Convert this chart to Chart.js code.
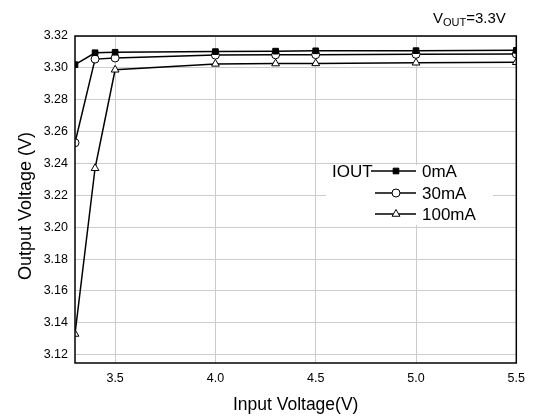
<!DOCTYPE html>
<html>
<head>
<meta charset="utf-8">
<script src="https://cdn.jsdelivr.net/npm/chart.js@4"></script>
<style>
  body { margin: 0; background: #fff; }
  #wrap { width: 533px; height: 416px; }
</style>
</head>
<body>
<div id="wrap"><canvas id="myChart"></canvas></div>
<script>
// input voltage points (V)
const vin = [3.3, 3.4, 3.5, 4.0, 4.3, 4.5, 5.0, 5.5];
// output voltage per load current
const out0mA   = [3.302, 3.3095, 3.3098, 3.3102, 3.3105, 3.3107, 3.3108, 3.311];
const out30mA  = [3.253, 3.3055, 3.3062, 3.308, 3.3082, 3.3083, 3.3085, 3.3087];
const out100mA = [3.133, 3.237, 3.2988, 3.3025, 3.3027, 3.3028, 3.3032, 3.3035];
const seriesNames = ["0mA", "30mA", "100mA"];
const xTicks = [3.5, 4.0, 4.5, 5.0, 5.5];
const yTicks = [3.12, 3.14, 3.16, 3.18, 3.20, 3.22, 3.24, 3.26, 3.28, 3.30, 3.32];

const font = "'Liberation Sans', Arial, sans-serif";

function pts(ys) {
  return vin.map((x, i) => ({ x: x, y: ys[i] }));
}

const styles = [
  { pointStyle: "rect", bg: "#000", radius: 4 },
  { pointStyle: "circle", bg: "#fff", radius: 4 },
  { pointStyle: "triangle", bg: "#fff", radius: 4.5 }
];

const datasets = [out0mA, out30mA, out100mA].map((ys, i) => ({
  label: seriesNames[i],
  data: pts(ys),
  borderColor: "#000",
  borderWidth: 1.5,
  pointStyle: styles[i].pointStyle,
  pointBackgroundColor: styles[i].bg,
  pointBorderColor: "#000",
  pointBorderWidth: 1,
  pointRadius: styles[i].radius,
  tension: 0
}));

// frame, legend box, y title and Vout note
const extras = {
  id: "extras",
  afterDraw(chart) {
    const c = chart.ctx;
    const a = chart.chartArea;
    c.save();
    // legend
    c.fillStyle = "#fff";
    c.fillRect(326, 165, 167, 60);
    c.fillStyle = "#000";
    c.font = "17px " + font;
    c.textBaseline = "middle";
    c.textAlign = "left";
    c.fillText("IOUT", 332, 172);
    const rows = [171, 193, 214];
    rows.forEach((y, i) => {
      c.strokeStyle = "#000";
      c.lineWidth = 1.5;
      c.beginPath();
      c.moveTo(i === 0 ? 371 : 375, y);
      c.lineTo(416, y);
      c.stroke();
      c.lineWidth = 1;
      c.fillStyle = styles[i].bg;
      Chart.helpers.drawPoint(c, {
        pointStyle: styles[i].pointStyle,
        radius: styles[i].radius,
        borderWidth: 1
      }, 396, y);
      c.fillStyle = "#000";
      c.fillText(seriesNames[i], 422, y + 1);
    });
    // frame
    c.strokeStyle = "#000";
    c.lineWidth = 1.5;
    c.strokeRect(a.left, a.top, a.right - a.left, a.bottom - a.top);
    // y title
    c.save();
    c.translate(26, 206);
    c.rotate(-Math.PI / 2);
    c.font = "18px " + font;
    c.textAlign = "center";
    c.textBaseline = "middle";
    c.fillText("Output Voltage (V)", 0, 0);
    c.restore();
    // Vout note
    c.font = "15px " + font;
    c.textBaseline = "alphabetic";
    c.textAlign = "left";
    let x = 433;
    c.fillText("V", x, 23);
    x += c.measureText("V").width;
    c.font = "11px " + font;
    c.fillText("OUT", x, 26);
    x += c.measureText("OUT").width;
    c.font = "15px " + font;
    c.fillText("=3.3V", x, 23);
    c.restore();
  }
};

new Chart(document.getElementById("myChart"), {
  type: "line",
  data: { datasets: datasets },
  options: {
    responsive: true,
    maintainAspectRatio: false,
    animation: false,
    layout: { padding: { top: 36, right: 15, left: 0, bottom: 0 } },
    plugins: { legend: { display: false }, tooltip: { enabled: false } },
    scales: {
      x: {
        type: "linear",
        min: 3.3,
        max: 5.5,
        afterBuildTicks: s => { s.ticks = xTicks.map(v => ({ value: v })); },
        afterFit: s => { s.height = 53; },
        grid: { color: "#cccccc", lineWidth: 1, drawTicks: false },
        border: { display: false },
        ticks: {
          color: "#000",
          padding: 8,
          font: { family: font, size: 12.5 },
          callback: v => v.toFixed(1)
        },
        title: {
          display: true,
          text: "Input Voltage(V)",
          color: "#000",
          font: { family: font, size: 17.5 },
          padding: { top: 4, bottom: 0 }
        }
      },
      y: {
        min: 3.1148,
        max: 3.32,
        afterBuildTicks: s => { s.ticks = yTicks.map(v => ({ value: v })); },
        afterFit: s => { s.width = 75; },
        grid: { color: "#cccccc", lineWidth: 1, drawTicks: false },
        border: { display: false },
        ticks: {
          color: "#000",
          padding: 7,
          font: { family: font, size: 12.5 },
          callback: v => v.toFixed(2)
        },
        title: { display: false }
      }
    }
  },
  plugins: [extras]
});
</script>
</body>
</html>
